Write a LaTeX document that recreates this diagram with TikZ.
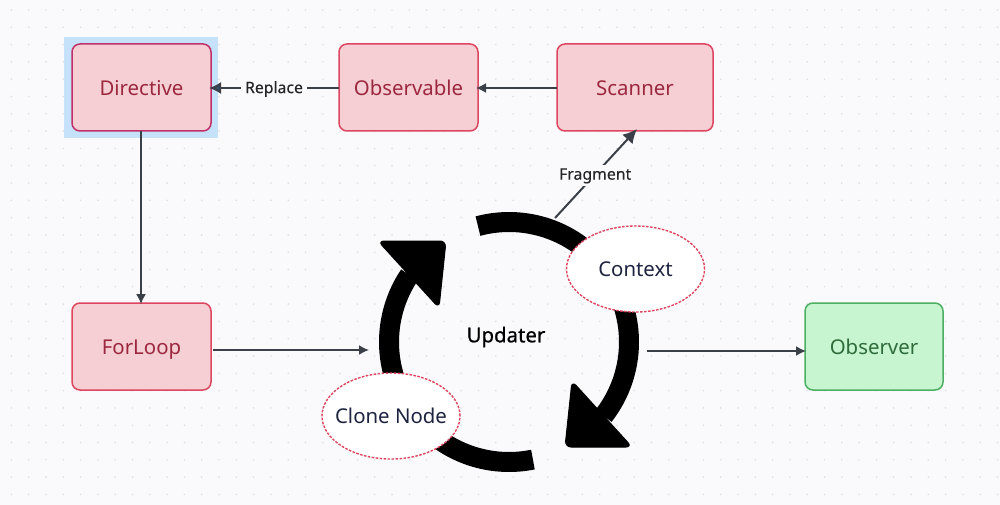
\documentclass[tikz,border=0pt]{standalone}
\usepackage{fontspec}
\setmainfont{Noto Sans}
\newfontfamily\lblfont[FakeBold=0.25]{Noto Sans}
\newfontfamily\updfont[FakeBold=0.7]{Noto Sans}
\usetikzlibrary{arrows.meta,shapes.geometric}
\definecolor{bgc}{HTML}{FAFAFD}
\definecolor{dotc}{HTML}{DEDEE6}
\definecolor{redfill}{HTML}{F5CFD3}
\definecolor{redline}{HTML}{DC4660}
\definecolor{redtext}{HTML}{9C2840}
\definecolor{greenfill}{HTML}{C6F5CF}
\definecolor{greenline}{HTML}{4CAF62}
\definecolor{greentext}{HTML}{2F6B3B}
\definecolor{inkc}{HTML}{3A3F48}
\definecolor{navy}{HTML}{1E2440}
\definecolor{hilite}{HTML}{C6E2FA}
\definecolor{headblue}{HTML}{34506A}
\tikzset{
  x=1pt,y=-1pt,
  redbox/.style={rectangle,rounded corners=8pt,draw=redline,fill=redfill,line width=1.5pt,text=redtext,font=\fontsize{20.4}{24}\selectfont,inner sep=0pt,minimum height=87pt,text height=21pt,text depth=5pt},
  greenbox/.style={redbox,draw=greenline,fill=greenfill,text=greentext},
  oval/.style={ellipse,draw=redline,fill=white,dash pattern=on 2.6pt off 1.4pt,line width=1.4pt,text=navy,font=\fontsize{20.4}{24}\selectfont,inner ysep=0pt,inner xsep=-22pt,minimum width=138pt,minimum height=86pt,text height=20pt,text depth=5pt},
  link/.style={draw=inkc,line width=1.8pt,-{Latex[length=10pt,width=10pt]}},
  edgelabel/.style={fill=bgc,text=black!85,font=\lblfont\fontsize{15.8}{18}\selectfont,inner xsep=4pt,inner ysep=3pt},
  ring/.style={line width=20pt,draw=black,line cap=butt},
  headtri/.style={fill=black,draw=black,line width=1pt,rounded corners=6pt}
}
\begin{document}
\begin{tikzpicture}
\useasboundingbox (0,0) rectangle (1000,505);
\fill[bgc] (0,0) rectangle (1000,505);
\foreach \i in {0,...,57}{\foreach \j in {0,...,28}{
  \fill[dotc] ({11.4+17.3*\i},{10+17.3*\j}) circle[radius=0.9pt];}}
\fill[hilite] (64,37) rectangle (218,138);
% ring
\draw[ring] plot[smooth,samples=40,domain=105:-38] ({509+120*cos(\x)},{342-120*sin(\x)});
\draw[ring] plot[smooth,samples=40,domain=-78.5:-214] ({509+120*cos(\x)},{342-120*sin(\x)});
\draw[headtri] (565,447) -- (572,381) -- (632,447) -- cycle;
\draw[headtri] (446,241) -- (378,241) -- (439,308) -- cycle;
% nodes
\node[redbox,minimum width=139pt,draw=redline!70!violet] (dir) at (141.5,87.5) {Directive};
\node[redbox,minimum width=139pt] (obs) at (408.5,87.5) {Observable};
\node[redbox,minimum width=156pt] (scan) at (635,87.5) {Scanner};
\node[redbox,minimum width=139pt] (for) at (141.5,346.5) {ForLoop};
\node[greenbox,minimum width=138pt] (obr) at (874,346.5) {Observer};
\node[oval] (ctx) at (635.5,269) {Context};
\node[oval] (cln) at (391,416) {Clone Node};
\node[font=\updfont\fontsize{20.4}{24}\selectfont,text=black,inner sep=0pt] (upd) at (506,337) {Updater};
% free ends
\coordinate (f1) at (555,218);
\coordinate (f2) at (637,129);
\coordinate (a1) at (213,350);
\coordinate (a2) at (369,350);
\coordinate (b1) at (647,351);
\coordinate (b2) at (806,351);
\coordinate (rep) at (339,88);
\coordinate (dirr) at (209,88);
\coordinate (scanl) at (557,88);
\coordinate (obsr) at (476,88);
\coordinate (dirb) at (141,131);
\coordinate (forb) at (141,304);
% connectors
\draw[link,line width=2pt,-{Latex[length=12pt,width=12pt,fill=headblue]}] (rep) -- node[edgelabel,pos=0.5,yshift=-1pt] (replbl) {Replace} (dirr);
\draw[link] (scanl) -- (obsr);
\draw[link,line width=1.4pt] (dirb) -- (forb);
\draw[link,line width=2pt,-{Latex[length=14pt,width=14pt]}] (f1) -- node[edgelabel,pos=0.49,yshift=-1.5pt] (fraglbl) {Fragment} (f2);
\draw[link] (a1) -- (a2);
\draw[link] (b1) -- (b2);
\end{tikzpicture}
\end{document}
